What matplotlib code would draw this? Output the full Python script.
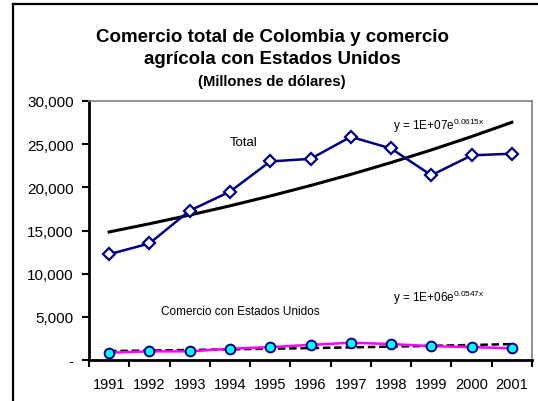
import numpy as np
import matplotlib
matplotlib.use("Agg")
from matplotlib import pyplot as plt
from matplotlib.lines import Line2D

# data
years = ['1991', '1992', '1993', '1994', '1995', '1996', '1997', '1998', '1999', '2000', '2001']
total = [12250, 13500, 17300, 19500, 23000, 23300, 25850, 24500, 21400, 23700, 23900]
usa = [850, 1000, 1000, 1300, 1500, 1750, 2000, 1850, 1600, 1500, 1350]
yticks = [0, 5000, 10000, 15000, 20000, 25000, 30000]
ylabels = ['-', '5,000', '10,000', '15,000', '20,000', '25,000', '30,000']

plt.rcParams['font.family'] = ['Liberation Sans', 'DejaVu Sans']
plt.rcParams['mathtext.fontset'] = 'custom'
plt.rcParams['mathtext.rm'] = 'Liberation Sans'

fig = plt.figure(figsize=(5.38, 4.02), dpi=100)
ax = fig.add_axes([89 / 538, 1 - 361 / 402, 443 / 538, 259 / 402])

x = np.arange(len(years))


def exp_trend(vals):
    # exponential trendline, like the spreadsheet one
    b, a = np.polyfit(x, np.log(vals), 1)
    return np.exp(a + b * x)


# trendlines
ax.plot(x, exp_trend(total), color='black', lw=2.2, zorder=2)
ax.plot(x, exp_trend(usa), color='black', lw=1.8, ls=(0, (3, 1.5)), zorder=2)

# series
ax.plot(x, total, color='#000080', lw=1.8, marker='D', markersize=6,
        markerfacecolor='white', markeredgecolor='#000080', markeredgewidth=1.6, zorder=3)
ax.plot(x, usa, color='#FF00FF', lw=1.8, marker='o', markersize=7,
        markerfacecolor='#00FFFF', markeredgecolor='#000080', markeredgewidth=1.4, zorder=3)

ax.set_xlim(-0.5, len(years) - 0.5)
ax.set_ylim(0, 30000)

ax.set_yticks(yticks)
ax.set_yticklabels(ylabels)
ax.set_xticks(np.arange(len(years) + 1) - 0.5)
ax.set_xticklabels([])
ax.set_xticks(x, minor=True)
ax.set_xticklabels(years, minor=True)

ax.tick_params(axis='y', direction='out', length=5, width=1.5, pad=6, labelsize=11)
ax.tick_params(axis='x', which='major', direction='out', length=5, width=1.5)
ax.tick_params(axis='x', which='minor', length=0, pad=12, labelsize=10.5)

for s in ['left', 'bottom']:
    ax.spines[s].set_linewidth(2)
    ax.spines[s].set_color('black')
for s in ['top', 'right']:
    ax.spines[s].set_linewidth(1.2)
    ax.spines[s].set_color('#808080')

# labels inside the plot
ax.text(3.35, 25250, 'Total', fontsize=9.5, ha='center', va='center')
ax.text(7.05, 27200, r'y = 1E+07e$^{\mathregular{0.0615x}}$', fontsize=8.5, ha='left', va='center')
ax.text(3.25, 5700, 'Comercio con Estados Unidos', fontsize=8.5, ha='center', va='center')
ax.text(7.05, 7300, r'y = 1E+06e$^{\mathregular{0.0547x}}$', fontsize=8.5, ha='left', va='center')

# title
fig.text(0.506, 1 - 37 / 402, 'Comercio total de Colombia y comercio', fontsize=13.5,
         fontweight='bold', ha='center', va='center')
fig.text(0.506, 1 - 60 / 402, 'agrícola con Estados Unidos', fontsize=13.5,
         fontweight='bold', ha='center', va='center')
fig.text(0.506, 1 - 82 / 402, '(Millones de dólares)', fontsize=10.7,
         fontweight='bold', ha='center', va='center')

# outer chart border (left and top visible)
fig.add_artist(Line2D([13 / 538, 13 / 538], [0, 1 - 5 / 402], color='black', lw=1.6))
fig.add_artist(Line2D([13 / 538, 1], [1 - 5 / 402, 1 - 5 / 402], color='black', lw=1.6))

fig.savefig('out.png', dpi=100)
